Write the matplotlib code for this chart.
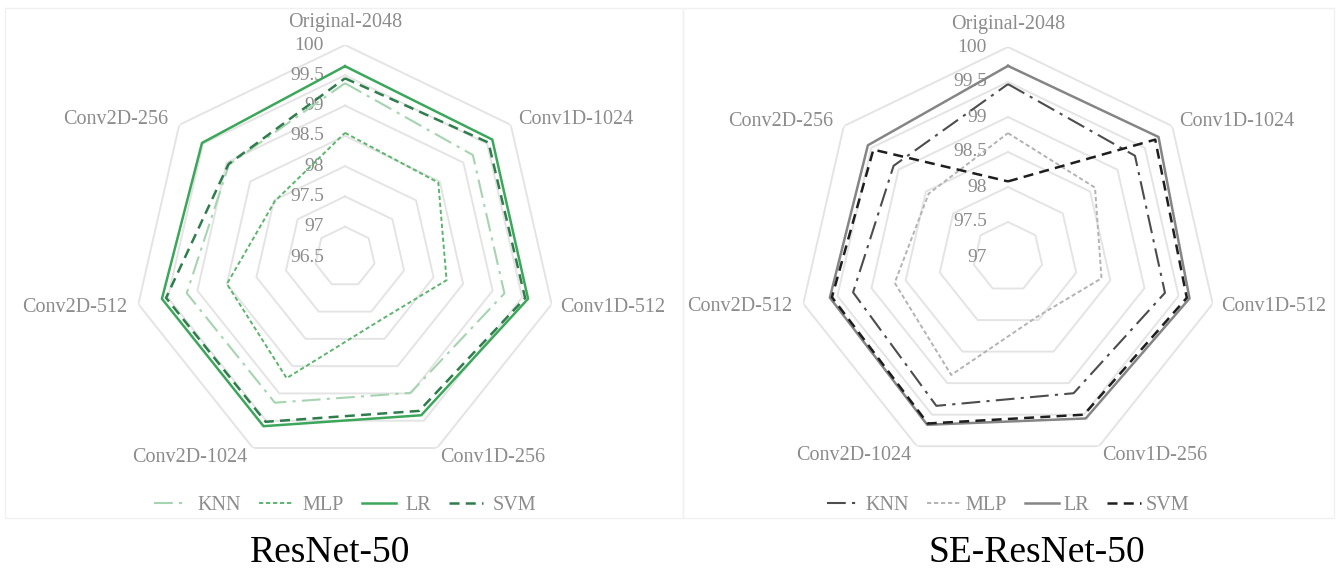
import matplotlib.pyplot as plt
import numpy as np
from matplotlib.patches import Rectangle

plt.rcParams['font.family'] = ['Liberation Serif', 'DejaVu Serif']

categories = ['Original-2048', 'Conv1D-1024', 'Conv1D-512', 'Conv1D-256',
              'Conv2D-1024', 'Conv2D-512', 'Conv2D-256']
models = ['KNN', 'MLP', 'LR', 'SVM']

# accuracy (%) per feature source
resnet_knn = [99.37, 99.20, 99.20, 98.99, 99.17, 99.18, 98.95]
resnet_mlp = [98.55, 98.47, 98.22, 97.70, 98.72, 98.50, 97.98]
resnet_lr = [99.65, 99.61, 99.60, 99.40, 99.60, 99.60, 99.52]
resnet_svm = [99.45, 99.53, 99.55, 99.32, 99.52, 99.53, 98.96]

se_knn = [99.47, 99.32, 99.30, 99.16, 99.36, 99.27, 99.09]
se_mlp = [98.77, 98.59, 98.37, 97.95, 98.87, 98.66, 98.45]
se_lr = [99.73, 99.75, 99.66, 99.56, 99.66, 99.61, 99.56]
se_svm = [98.08, 99.69, 99.62, 99.50, 99.64, 99.58, 99.46]

resnet_ticks = [96.5, 97, 97.5, 98, 98.5, 99, 99.5, 100]
se_ticks = [97, 97.5, 98, 98.5, 99, 99.5, 100]

styles = {
    'KNN': dict(ls=(0, (9, 3, 1.5, 3)), lw=1.5),
    'MLP': dict(ls=(0, (2.2, 1.4)), lw=1.4),
    'LR': dict(ls='-', lw=1.8),
    'SVM': dict(ls=(0, (4, 2.5)), lw=1.8),
}
green = {'KNN': '#a6d4b0', 'MLP': '#5cb56e', 'LR': '#3ca75a', 'SVM': '#2f7d4c'}
grey = {'KNN': '#4d4d4d', 'MLP': '#b3b3b3', 'LR': '#858585', 'SVM': '#1e1e1e'}

# pixel offsets of the category labels from the outer vertices
label_pos = [((0, 23), 'center'), ((7, 5), 'left'), ((8, -3), 'left'),
             ((3, -9), 'left'), ((-6, -9), 'right'), ((-11, -3), 'right'),
             ((-11, 5), 'right')]

n = len(categories)
theta = np.arange(n) * 2 * np.pi / n
theta_c = np.append(theta, theta[0])


def radar(ax, ticks, series, colors):
    ax.set_theta_zero_location('N')
    ax.set_theta_direction(-1)
    ax.set_ylim(ticks[0], ticks[-1])
    ax.grid(False)
    ax.spines['polar'].set_visible(False)
    ax.set_xticks([])
    ax.set_yticks([])
    ax.patch.set_alpha(0)
    for t in ticks[1:]:
        ax.plot(theta_c, [t] * (n + 1), color='#e4e4e4', lw=1.4, zorder=1)
    for t in ticks:
        ax.annotate(f'{t:g}', xy=(0, t), xytext=(-21, 0),
                    textcoords='offset pixels', ha='right', va='center',
                    fontsize=14, color='#8c8c8c', zorder=2)
    for cat, th, (off, ha) in zip(categories, theta, label_pos):
        ax.annotate(cat, xy=(th, ticks[-1]), xytext=off,
                    textcoords='offset pixels', ha=ha, va='center',
                    fontsize=14.5, color='#8c8c8c', annotation_clip=False)
    lines = []
    for name, vals in zip(models, series):
        ln, = ax.plot(theta_c, vals + vals[:1], color=colors[name],
                      label=name, zorder=3, **styles[name])
        lines.append(ln)
    return lines


fig = plt.figure(figsize=(13.36, 5.73), dpi=100)

# faint panel frames
for x0, x1 in [(5, 683), (683, 1334)]:
    fig.add_artist(Rectangle((x0 / 1336, 1 - 518 / 573), (x1 - x0) / 1336,
                             510 / 573, transform=fig.transFigure,
                             fill=False, edgecolor='#f0f0f0', lw=1))

ax1 = fig.add_axes([133 / 1336, 1 - 469 / 573, 424 / 1336, 424 / 573],
                   projection='polar')
ax2 = fig.add_axes([798 / 1336, 1 - 467 / 573, 420 / 1336, 420 / 573],
                   projection='polar')

h1 = radar(ax1, resnet_ticks, [resnet_knn, resnet_mlp, resnet_lr, resnet_svm],
           green)
h2 = radar(ax2, se_ticks, [se_knn, se_mlp, se_lr, se_svm], grey)

for handles, cx, pad in [(h1, 345 / 1336, 0.45), (h2, 1008 / 1336, 0.2)]:
    leg = fig.legend(handles=handles, loc='center', ncol=4,
                     bbox_to_anchor=(cx, 1 - 505 / 573), frameon=False,
                     handlelength=1.7, handletextpad=pad, columnspacing=0.9,
                     fontsize=14.5)
    for txt in leg.get_texts():
        txt.set_color('#8c8c8c')

fig.text(330 / 1336, 1 - 553 / 573, 'ResNet-50', ha='center', va='center',
         fontsize=27, color='black')
fig.text(1037 / 1336, 1 - 553 / 573, 'SE-ResNet-50', ha='center',
         va='center', fontsize=27, color='black')

fig.savefig('out.png', dpi=100)
